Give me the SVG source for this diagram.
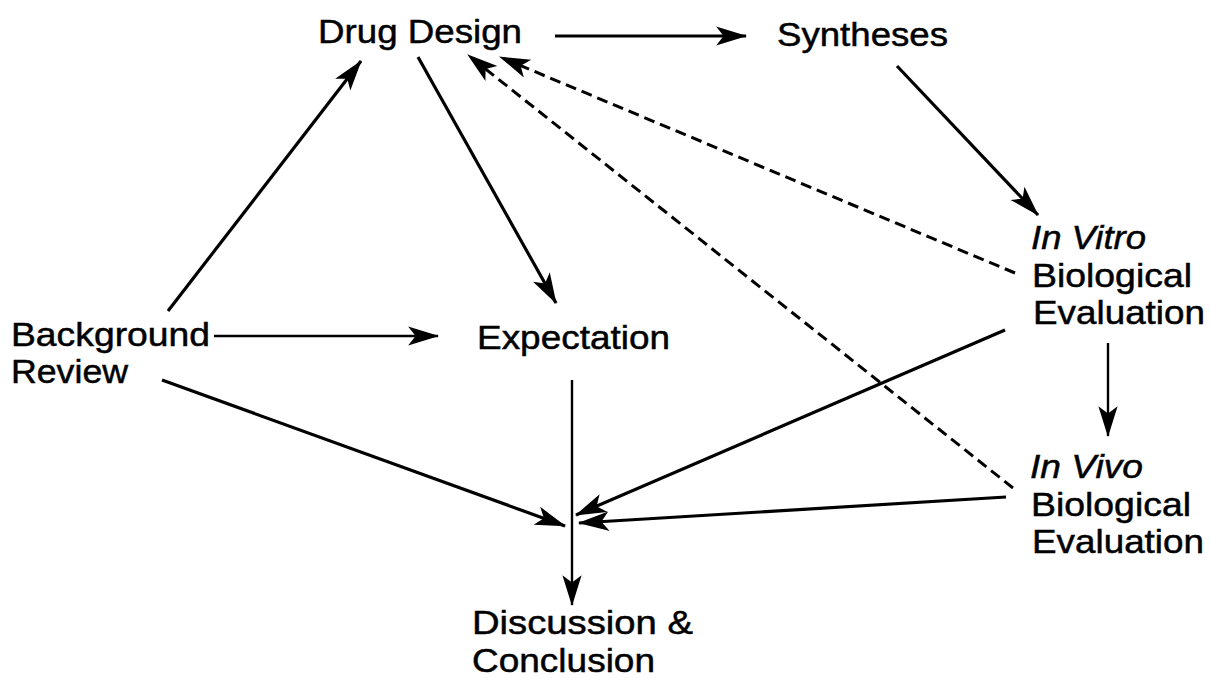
<svg xmlns="http://www.w3.org/2000/svg" width="1211" height="678" viewBox="0 0 1211 678">
<style>
text{font-family:"Liberation Sans",Arial,sans-serif;font-size:34px;fill:#000;stroke:#000;stroke-width:0.5}
.it{font-style:italic}
.s{stroke:#000;stroke-width:3.2;fill:none}
.t{stroke:#000;stroke-width:2.4;fill:none}
.d{stroke:#000;stroke-width:3;fill:none;stroke-dasharray:11 6}
</style>
<defs>
<marker id="ah" markerUnits="userSpaceOnUse" markerWidth="32" markerHeight="22" refX="28" refY="10" orient="auto" viewBox="0 0 30 20">
<path d="M0,1 L29,10 L0,19 L7,10 Z" fill="#000"/>
</marker>
</defs>
<rect width="1211" height="678" fill="#fff"/>
<g id="connectors">
<line class="s" x1="555" y1="36" x2="746" y2="36" marker-end="url(#ah)"/>
<line class="s" x1="897" y1="66" x2="1038" y2="215" marker-end="url(#ah)"/>
<line class="t" x1="1108" y1="343" x2="1108" y2="436" marker-end="url(#ah)"/>
<line class="d" x1="1015" y1="273" x2="500" y2="57" marker-end="url(#ah)"/>
<line class="d" x1="1013" y1="488" x2="468" y2="55" marker-end="url(#ah)"/>
<line class="s" x1="168" y1="311" x2="361" y2="61" marker-end="url(#ah)"/>
<line class="s" x1="418" y1="57" x2="556" y2="303" marker-end="url(#ah)"/>
<line class="t" x1="214" y1="336" x2="438" y2="336" marker-end="url(#ah)"/>
<line class="s" x1="162" y1="380" x2="565" y2="526" marker-end="url(#ah)"/>
<line class="s" x1="1005" y1="330" x2="576" y2="515" marker-end="url(#ah)"/>
<line class="s" x1="1006" y1="497" x2="579" y2="523" marker-end="url(#ah)"/>
<line class="t" x1="572" y1="380" x2="572" y2="605" marker-end="url(#ah)"/>
</g>
<g id="drug-design"><text x="318" y="43" textLength="204" lengthAdjust="spacingAndGlyphs">Drug Design</text></g>
<g id="syntheses"><text x="777" y="46" textLength="171" lengthAdjust="spacingAndGlyphs">Syntheses</text></g>
<g id="background-review">
<text x="11" y="346" textLength="199" lengthAdjust="spacingAndGlyphs">Background</text>
<text x="11" y="383" textLength="117" lengthAdjust="spacingAndGlyphs">Review</text>
</g>
<g id="expectation"><text x="477" y="349" textLength="193" lengthAdjust="spacingAndGlyphs">Expectation</text></g>
<g id="in-vitro">
<text class="it" x="1031" y="249" textLength="115" lengthAdjust="spacingAndGlyphs">In Vitro</text>
<text x="1032" y="287" textLength="160" lengthAdjust="spacingAndGlyphs">Biological</text>
<text x="1033" y="324" textLength="172" lengthAdjust="spacingAndGlyphs">Evaluation</text>
</g>
<g id="in-vivo">
<text class="it" x="1030" y="478" textLength="113" lengthAdjust="spacingAndGlyphs">In Vivo</text>
<text x="1031" y="516" textLength="160" lengthAdjust="spacingAndGlyphs">Biological</text>
<text x="1032" y="553" textLength="172" lengthAdjust="spacingAndGlyphs">Evaluation</text>
</g>
<g id="discussion">
<text x="472" y="634" textLength="221" lengthAdjust="spacingAndGlyphs">Discussion &amp;</text>
<text x="472" y="672" textLength="183" lengthAdjust="spacingAndGlyphs">Conclusion</text>
</g>
</svg>
